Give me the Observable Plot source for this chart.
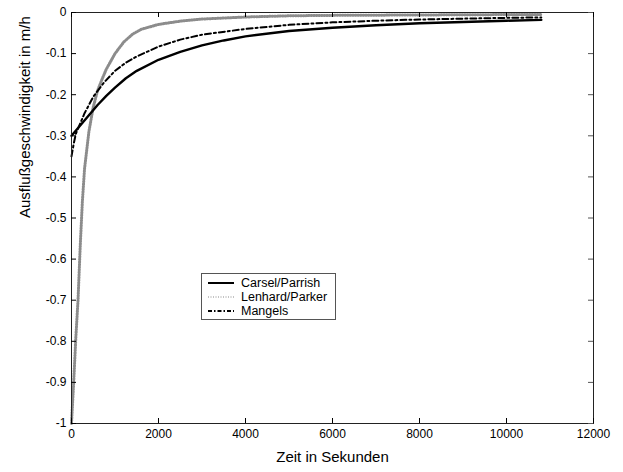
<!DOCTYPE html>
<html><head><meta charset="utf-8">
<script src="https://cdn.jsdelivr.net/npm/d3@7"></script>
<script src="https://cdn.jsdelivr.net/npm/@observablehq/plot@0.6"></script>
<style>
html,body{margin:0;padding:0;background:#fff;}
#wrap{position:relative;width:623px;height:472px;font-family:"Liberation Sans",Arial,sans-serif;}
#legend{position:absolute;left:201px;top:273px;width:135px;height:47px;border:1px solid #555;background:#fff;font-size:12.5px;box-sizing:border-box;padding-top:2px;}
#legend .row{display:flex;align-items:center;height:14px;}
#legend svg{margin-left:6px;margin-right:7px;}
</style></head>
<body><div id="wrap"></div>
<script>
// Series: Carsel/Parrish
const tCarsel = [0,200,400,600,800,1000,1250,1500,2000,2500,3000,3500,4000,5000,6000,7000,8000,9000,10000,10800];
const vCarsel = [-0.300,-0.275,-0.250,-0.225,-0.203,-0.183,-0.160,-0.142,-0.115,-0.096,-0.080,-0.068,-0.058,-0.045,-0.037,-0.031,-0.026,-0.023,-0.020,-0.018];
// Series: Lenhard/Parker
const tLenhard = [0,20,50,100,150,200,250,300,400,500,600,700,800,1000,1200,1400,1600,2000,2500,3000,4000,5000,6000,8000,10000,10800];
const vLenhard = [-1.0,-0.96,-0.90,-0.79,-0.70,-0.57,-0.46,-0.38,-0.29,-0.23,-0.19,-0.163,-0.138,-0.100,-0.072,-0.053,-0.041,-0.029,-0.021,-0.016,-0.011,-0.008,-0.007,-0.006,-0.005,-0.005];
// Series: Mangels
const tMangels = [0,50,100,300,500,750,1000,1250,1500,2000,2500,3000,4000,5000,6000,7000,8000,9000,10000,10800];
const vMangels = [-0.35,-0.32,-0.295,-0.245,-0.205,-0.17,-0.142,-0.122,-0.107,-0.083,-0.066,-0.054,-0.040,-0.030,-0.024,-0.020,-0.017,-0.015,-0.013,-0.012];

const seriesNames = ["Carsel/Parrish","Lenhard/Parker","Mangels"];
const xTicks = [0,2000,4000,6000,8000,10000,12000];
const yTicks = [0,-0.1,-0.2,-0.3,-0.4,-0.5,-0.6,-0.7,-0.8,-0.9,-1];

const rows = (ts, vs) => ts.map((t, i) => ({t, v: vs[i]}));
const carsel = rows(tCarsel, vCarsel);
const lenhard = rows(tLenhard, vLenhard);
const mangels = rows(tMangels, vMangels);

const W = 623, H = 472, mL = 71, mR = 30, mT = 12, mB = 49;
const fW = W - mL - mR, fH = H - mT - mB, tick = 5;
const fmtY = d => d === 0 ? "0" : (d === -1 ? "-1" : "-" + Math.abs(d).toFixed(1));
const fmtX = d => String(d);

const styles = [
  {stroke: "black", strokeWidth: 2.4},
  {stroke: "#8c8c8c", strokeWidth: 3, strokeDasharray: "1,1.6"},
  {stroke: "black", strokeWidth: 2, strokeDasharray: "6,3,2,3"}
];
const legendStyles = [
  {stroke: "black", strokeWidth: 2},
  {stroke: "#888", strokeWidth: 1.2, strokeDasharray: "1,1.5"},
  {stroke: "black", strokeWidth: 2, strokeDasharray: "4,2,1.5,2"}
];

const chart = Plot.plot({
  width: W, height: H,
  marginLeft: mL, marginRight: mR, marginTop: mT, marginBottom: mB,
  style: {fontFamily: "Liberation Sans, Arial, sans-serif", fontSize: "12px", background: "white"},
  x: {domain: [0, 12000]},
  y: {domain: [-1, 0]},
  marks: [
    Plot.line(lenhard, {x: "t", y: "v", ...styles[1]}),
    Plot.line(mangels, {x: "t", y: "v", ...styles[2]}),
    Plot.line(carsel, {x: "t", y: "v", ...styles[0]}),
    Plot.frame({stroke: "#222"}),
    Plot.tickX(xTicks, {x: d => d, insetTop: fH - tick, stroke: "black"}),
    Plot.tickX(xTicks, {x: d => d, insetBottom: fH - tick, stroke: "black"}),
    Plot.tickY(yTicks, {y: d => d, insetRight: fW - tick, stroke: "black"}),
    Plot.tickY(yTicks, {y: d => d, insetLeft: fW - tick, stroke: "#555"}),
    Plot.axisX(xTicks, {anchor: "bottom", tickSize: 0, tickPadding: 6, label: null, tickFormat: fmtX, fontSize: 12, fill: "black"}),
    Plot.axisY(yTicks, {anchor: "left", tickSize: 0, tickPadding: 5, label: null, tickFormat: fmtY, fontSize: 12, fill: "black"}),
    Plot.text(["Zeit in Sekunden"], {frameAnchor: "bottom", dy: 38, text: d => d, fontSize: 15, fill: "black"}),
    Plot.text(["Ausflußgeschwindigkeit in m/h"], {frameAnchor: "left", dx: -46, rotate: -90, text: d => d, fontSize: 15, fill: "black"})
  ]
});

const wrap = document.getElementById("wrap");
wrap.appendChild(chart);

const legend = document.createElement("div");
legend.id = "legend";
seriesNames.forEach((name, i) => {
  const row = document.createElement("div");
  row.className = "row";
  const s = legendStyles[i];
  row.innerHTML = `<svg width="26" height="8"><line x1="0" y1="4" x2="26" y2="4" stroke="${s.stroke}" stroke-width="${s.strokeWidth}" ${s.strokeDasharray ? `stroke-dasharray="${s.strokeDasharray}"` : ""}/></svg><span>${name}</span>`;
  legend.appendChild(row);
});
wrap.appendChild(legend);
</script>
</body></html>
